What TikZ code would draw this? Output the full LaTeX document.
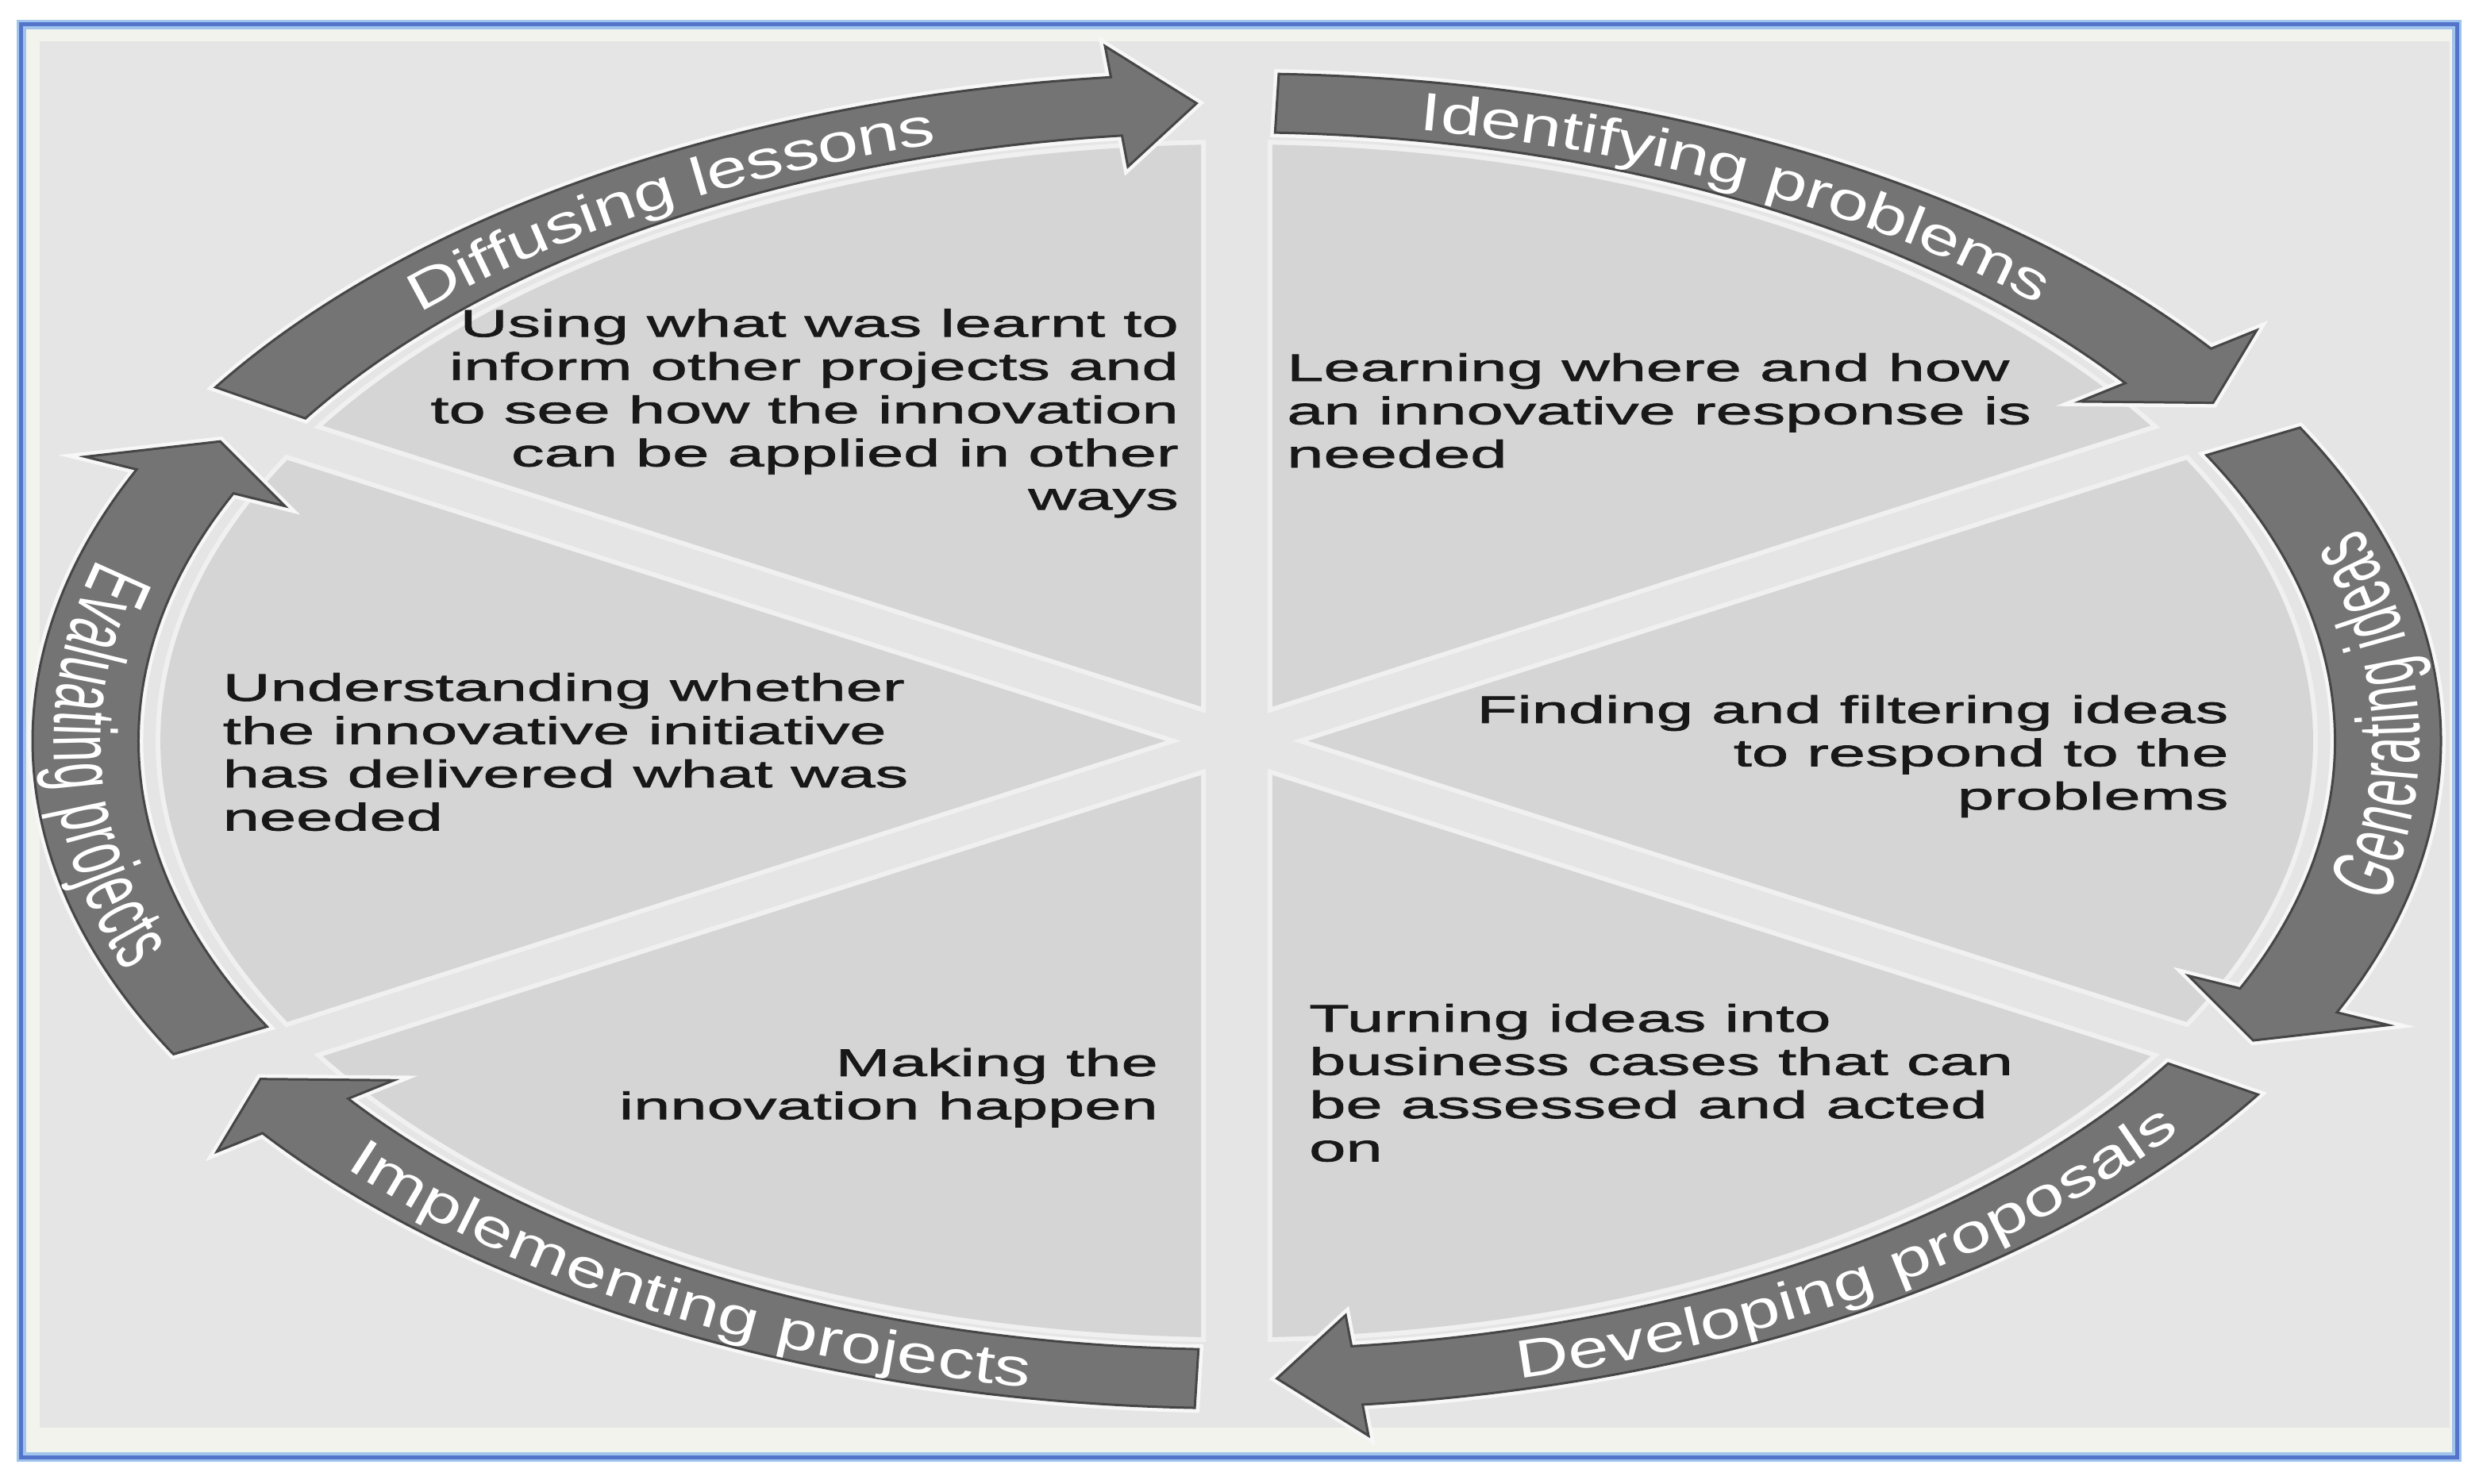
\documentclass[tikz,border=0pt]{standalone}
\usepackage{fontspec}
\setmainfont{Liberation Sans}
\newfontfamily\sectfont[FakeStretch=1.72,FakeBold=1.6]{Liberation Sans}
\newfontfamily\arrowfontH[FakeStretch=1.36]{Liberation Sans}
\newfontfamily\arrowfontV[FakeStretch=0.54]{Liberation Sans}
\newcommand\arrowH{\arrowfontH\fontsize{9.67}{11}\selectfont}
\newcommand\arrowV{\arrowfontV\fontsize{15.9}{18}\selectfont}
\usetikzlibrary{decorations.text}
\definecolor{bggray}{RGB}{229,229,229}
\definecolor{pale}{RGB}{243,243,238}
\definecolor{sectgray}{RGB}{213,213,213}
\definecolor{halo}{RGB}{240,240,240}
\definecolor{arrowfill}{RGB}{116,116,116}
\definecolor{arrowedge}{RGB}{70,70,70}
\definecolor{framedark}{RGB}{84,116,204}
\definecolor{framelight}{RGB}{160,196,236}
\definecolor{textdark}{RGB}{24,24,24}
\tikzset{
  sectorshape/.style={fill=sectgray, preaction={draw=halo, line width=0.6mm}},
  arrowshape/.style={fill=arrowfill, draw=arrowedge, line width=0.15mm,
    preaction={draw=white!70!bggray, line width=0.6mm}},
  secttext/.style={font=\sectfont\fontsize{6.89}{7.77}\selectfont, text=textdark, inner sep=0pt},
  hlabel/.style={decorate, decoration={text along path, text color=white,
    text align=center, raise=-3.4pt, text={|\arrowH|#1}}},
  vlabel/.style={decorate, decoration={text along path, text color=white,
    text align=center, raise=-5.7pt, text={|\arrowV|#1}}}
}
\begin{document}
\begin{tikzpicture}
\useasboundingbox (0,0) rectangle (15.68,9.37);
% page and frame
\fill[white] (0,0) rectangle (15.68,9.37);
\draw[framelight, line width=0.6mm, fill=pale] (0.135,0.165) rectangle (15.515,9.215);
\draw[framedark, line width=0.25mm] (0.135,0.165) rectangle (15.515,9.215);
\fill[bggray] (0.25,0.35) rectangle (15.47,9.11);

% sectors and arrows (circle space, stretched)
\begin{scope}[shift={(7.81,4.69)}, xscale=7.27, yscale=4.03]
  \foreach \a in {-30,30,90,150,210,270} {
    \path[sectorshape] ({\a+30}:0.062) -- ({\a+1.9}:0.935)
      arc[start angle=\a+1.9, end angle=\a+58.1, radius=0.935] -- cycle;
  }
  \foreach \t in {148,88,28,-32,-92,-152} {
    \path[arrowshape] ({\t}:1.046)
      arc[start angle=\t, end angle=\t-52, radius=1.046]
      -- ({\t-52}:1.095) -- ({\t-56}:1) -- ({\t-52}:0.905)
      -- ({\t-52}:0.954)
      arc[start angle=\t-52, end angle=\t, radius=0.954] -- cycle;
  }
\end{scope}

% arrow labels
\begin{scope}[shift={(7.81,4.69)}]
  \path[hlabel={Diffusing lessons}] ({7.27*cos(148)},{4.03*sin(148)})
    arc[start angle=148, end angle=96, x radius=7.27, y radius=4.03];
  \path[hlabel={Identifying problems}] ({7.27*cos(88)},{4.03*sin(88)})
    arc[start angle=88, end angle=36, x radius=7.27, y radius=4.03];
  \path[vlabel={Generating ideas}] ({7.27*cos(-24)},{4.03*sin(-24)})
    arc[start angle=-24, end angle=28, x radius=7.27, y radius=4.03];
  \path[hlabel={Developing proposals}] ({7.27*cos(-81)},{4.03*sin(-81)})
    arc[start angle=-81, end angle=-29, x radius=7.27, y radius=4.03];
  \path[hlabel={Implementing projects}] ({7.27*cos(-147)},{4.03*sin(-147)})
    arc[start angle=-147, end angle=-95, x radius=7.27, y radius=4.03];
  \path[vlabel={Evaluating projects}] ({7.27*cos(156)},{4.03*sin(156)})
    arc[start angle=156, end angle=208, x radius=7.27, y radius=4.03];
\end{scope}

% sector texts
\node[secttext, anchor=north east, align=right] (diffuse) at (7.45,7.426)
  {Using what was learnt to\\inform other projects and\\to see how the innovation\\can be applied in other\\ways};
\node[secttext, anchor=north west, align=left] (identify) at (8.12,7.146)
  {Learning where and how\\an innovative response is\\needed};
\node[secttext, anchor=north east, align=right] (generate) at (14.08,4.986)
  {Finding and filtering ideas\\to respond to the\\problems};
\node[secttext, anchor=north west, align=left] (develop) at (8.26,3.036)
  {Turning ideas into\\business cases that can\\be assessed and acted\\on};
\node[secttext, anchor=north east, align=right] (implement) at (7.32,2.756)
  {Making the\\innovation happen};
\node[secttext, anchor=north west, align=left] (evaluate) at (1.40,5.126)
  {Understanding whether\\the innovative initiative\\has delivered what was\\needed};
\end{tikzpicture}
\end{document}
